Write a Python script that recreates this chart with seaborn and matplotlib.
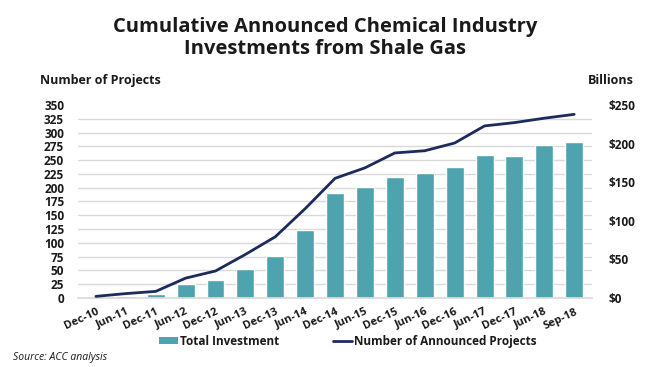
import numpy as np
import pandas as pd
import matplotlib
matplotlib.use("Agg")
import matplotlib.pyplot as plt
import seaborn as sns
from matplotlib.patches import Patch
from matplotlib.lines import Line2D

periods = ["Dec-10", "Jun-11", "Dec-11", "Jun-12", "Dec-12", "Jun-13", "Dec-13",
           "Jun-14", "Dec-14", "Jun-15", "Dec-15", "Jun-16", "Dec-16", "Jun-17",
           "Dec-17", "Jun-18", "Sep-18"]
investment_bn = [1, 2.5, 5.5, 18.6, 23.8, 37, 54.4, 88.5, 135.6, 143.8, 156.7,
                 162.3, 169.3, 184.8, 184, 198, 201.6]
projects = [3, 8, 12, 36, 49, 79, 111, 162, 217, 236, 263, 267, 281, 312, 318, 326, 333]

left_ticks = list(range(0, 351, 25))
right_ticks = list(range(0, 251, 50))

df = pd.DataFrame({"period": periods, "investment": investment_bn, "projects": projects})

sns.set_theme(style="white")
FONT = ["Open Sans", "DejaVu Sans"]
plt.rcParams["font.family"] = FONT

bar_color = "#4fa3ae"
line_color = "#1c2b5c"
text_color = "#1a1a1a"

fig = plt.figure(figsize=(6.5, 3.67), dpi=100)
ax_bar = fig.add_axes([0.12, 0.188, 0.791, 0.526])
ax_line = ax_bar.twinx()

sns.barplot(data=df, x="period", y="investment", color=bar_color, width=0.6,
            ax=ax_bar, saturation=1)
ax_bar.set_ylim(0, 250)
ax_bar.set_yticks(right_ticks)
ax_bar.set_yticklabels([f"${v}" for v in right_ticks])
ax_bar.set_yticks(np.array(left_ticks) * 250 / 350, minor=True)
ax_bar.grid(False)
ax_bar.grid(which="minor", axis="y", color="#d9d9d9", linewidth=1)
ax_bar.set_axisbelow(True)
ax_bar.yaxis.tick_right()
ax_bar.tick_params(axis="y", which="both", length=0, pad=12, labelsize=8.5,
                   labelcolor=text_color)
ax_bar.set_xlim(-0.6, len(periods) - 0.4)

sns.lineplot(data=df, x="period", y="projects", color=line_color, linewidth=2,
             ax=ax_line, sort=False)
ax_line.set_ylim(0, 350)
ax_line.set_yticks(left_ticks)
ax_line.yaxis.tick_left()
ax_line.tick_params(axis="y", length=0, pad=10, labelsize=8.5, labelcolor=text_color)
ax_line.set_xlim(-0.6, len(periods) - 0.4)
ax_line.grid(False)

for a in (ax_bar, ax_line):
    for s in a.spines.values():
        s.set_visible(False)
    a.set_xlabel("")
    a.set_ylabel("")
ax_bar.spines["bottom"].set_visible(True)
ax_bar.spines["bottom"].set_color("#d9d9d9")

ax_bar.set_xticks(range(len(periods)))
ax_bar.set_xticklabels(periods, rotation=25, ha="right", rotation_mode="anchor",
                       fontsize=8, color=text_color, fontweight="bold")
ax_bar.tick_params(axis="x", length=0, pad=6)
ax_line.tick_params(axis="x", length=0, labelbottom=False)
for lbl in ax_bar.get_yticklabels() + ax_line.get_yticklabels():
    lbl.set_fontweight("bold")

fig.text(0.5, 0.955, "Cumulative Announced Chemical Industry\nInvestments from Shale Gas",
         ha="center", va="top", fontsize=14.5, fontweight="bold", color=text_color,
         linespacing=1.15)
fig.text(0.062, 0.78, "Number of Projects", ha="left", va="center", fontsize=9,
         fontweight="bold", color=text_color)
fig.text(0.975, 0.78, "Billions", ha="right", va="center", fontsize=9,
         fontweight="bold", color=text_color)
fig.text(0.02, 0.027, "Source: ACC analysis", ha="left", va="center", fontsize=7.5,
         style="italic", color=text_color)

handles = [Patch(facecolor=bar_color, edgecolor="none", label="Total Investment"),
           Line2D([0], [0], color=line_color, linewidth=2,
                  label="Number of Announced Projects")]
leg = fig.legend(handles=handles, loc="center", bbox_to_anchor=(0.535, 0.07), ncol=2,
                 frameon=False, fontsize=8.5, handlelength=1.6, handleheight=0.6,
                 handletextpad=0.2, columnspacing=4.5)
for t in leg.get_texts():
    t.set_fontweight("bold")
    t.set_color(text_color)

fig.savefig("out.png", dpi=100)
